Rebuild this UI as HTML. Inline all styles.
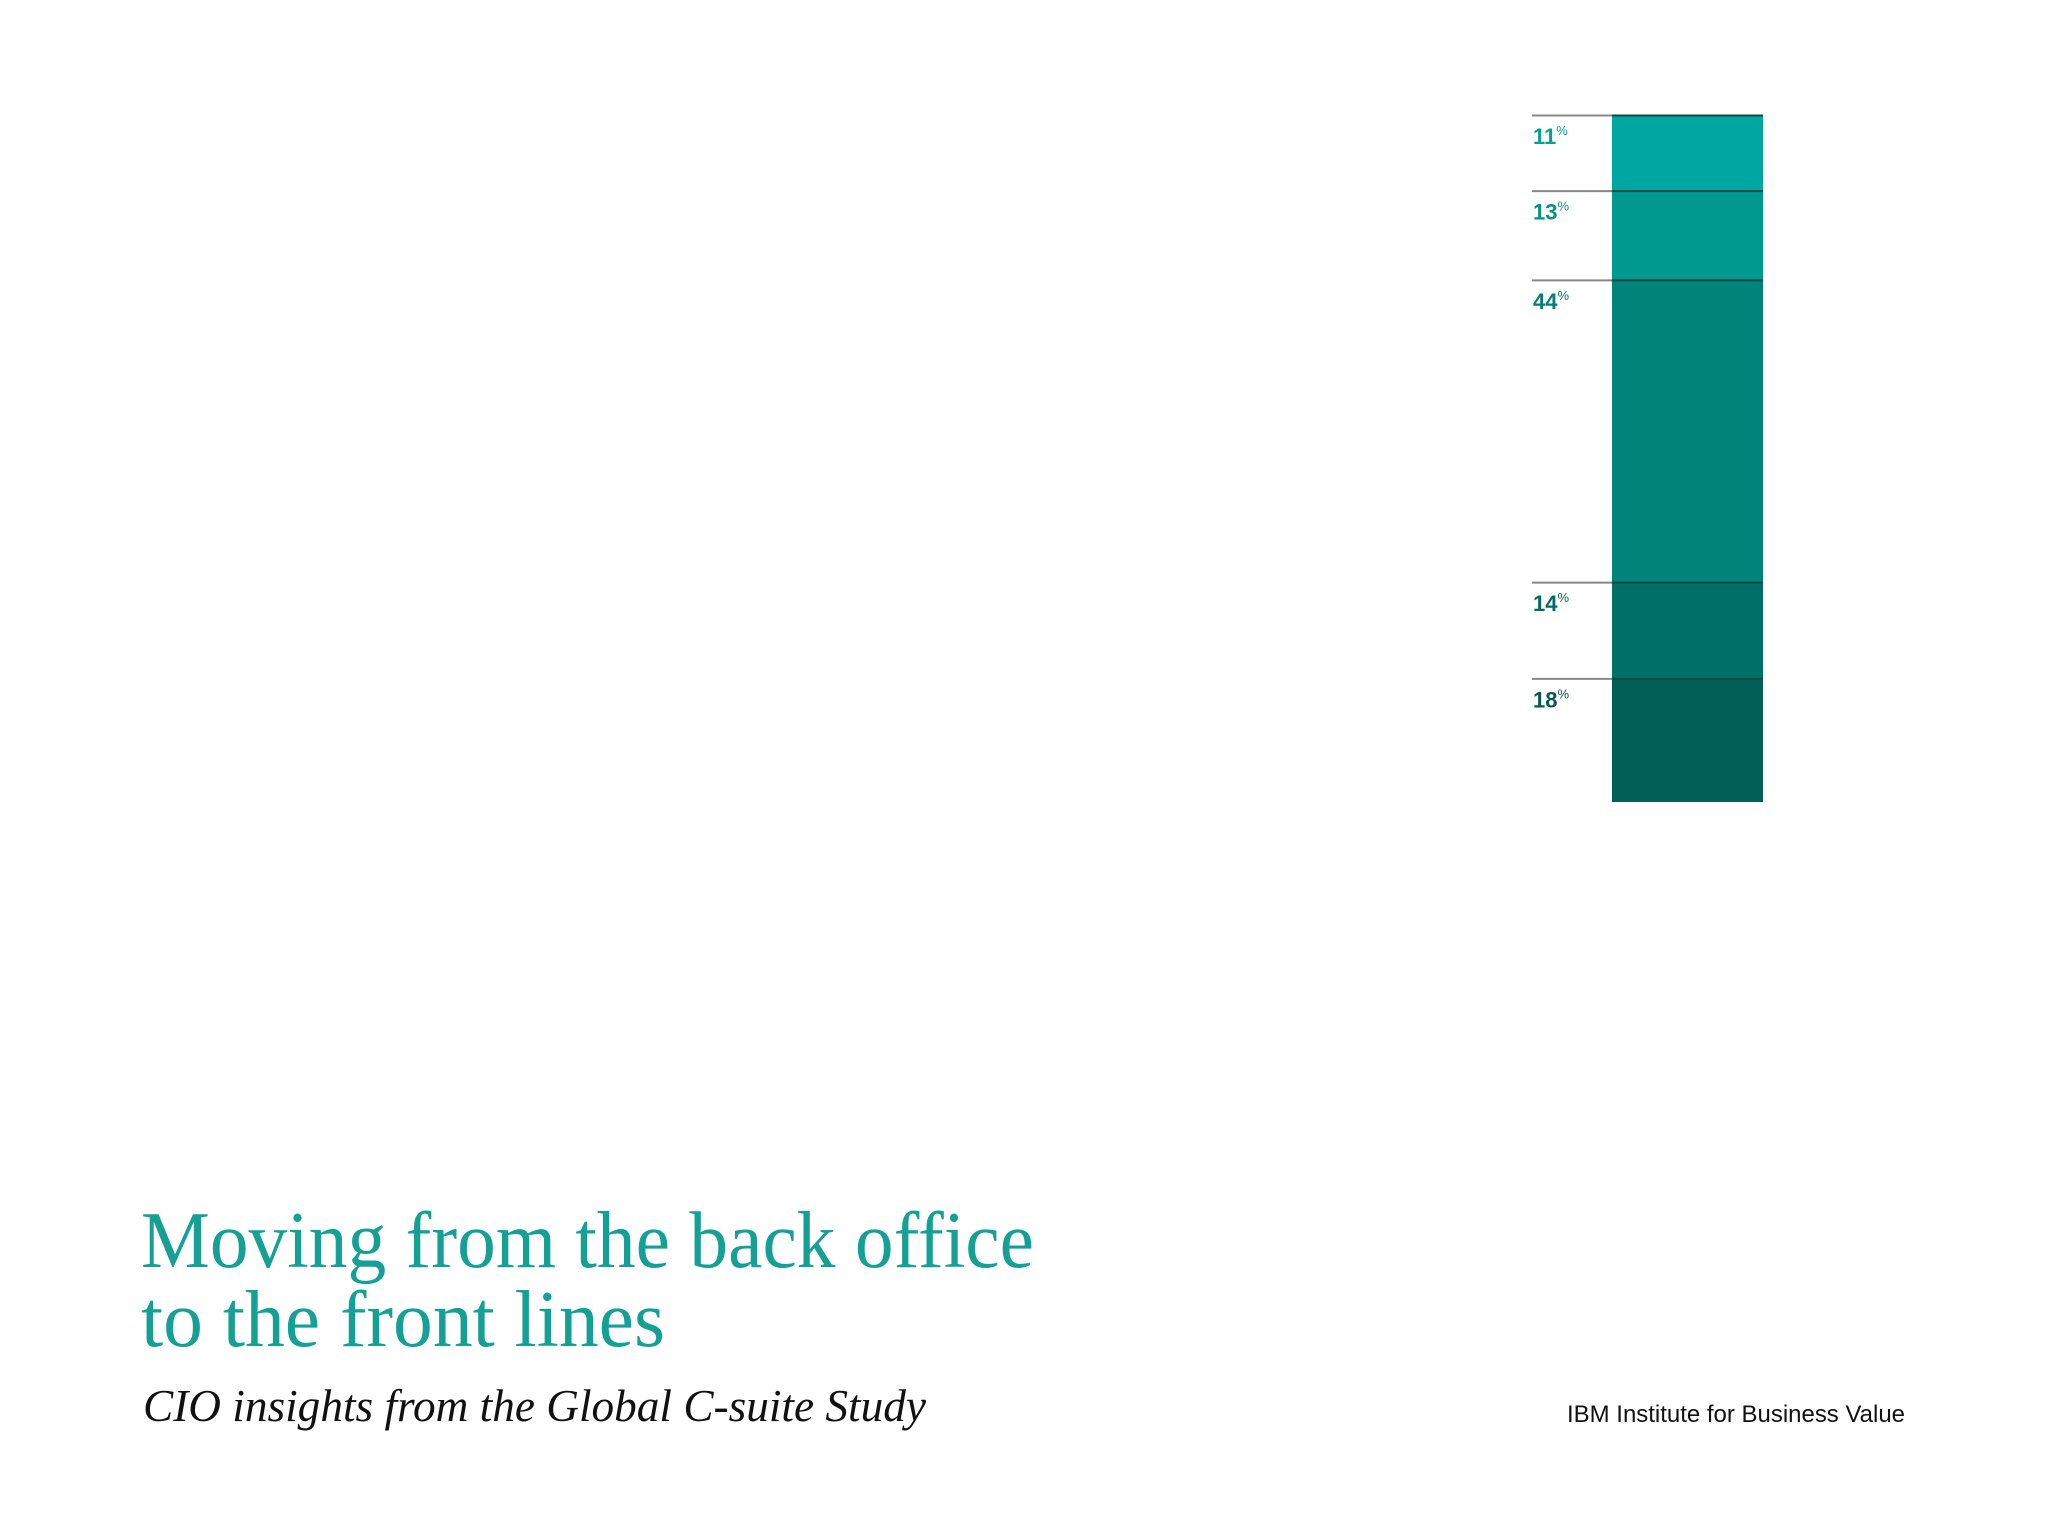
<!DOCTYPE html>
<html><head><meta charset="utf-8"><style>
html,body{margin:0;padding:0;background:#fff;}
svg{display:block;}
</style></head><body>
<svg id="chart" width="2048" height="1536" viewBox="0 0 2048 1536" xmlns="http://www.w3.org/2000/svg">
<rect width="2048" height="1536" fill="#fff"/>
<g id="bars"></g>
<text x="141" y="1267" font-family="Liberation Serif, serif" font-size="80" fill="#14a095" textLength="893" lengthAdjust="spacingAndGlyphs">Moving from the back office</text>
<text x="141" y="1346" font-family="Liberation Serif, serif" font-size="80" fill="#14a095" textLength="524" lengthAdjust="spacingAndGlyphs">to the front lines</text>
<text x="143" y="1421" font-family="Liberation Serif, serif" font-style="italic" font-size="46" fill="#111" textLength="783" lengthAdjust="spacingAndGlyphs">CIO insights from the Global C-suite Study</text>
<text x="1567" y="1422" font-family="Liberation Sans, sans-serif" font-size="24" fill="#111" textLength="338" lengthAdjust="spacingAndGlyphs">IBM Institute for Business Value</text>
</svg>
<script>
const categories = ["seg1","seg2","seg3","seg4","seg5"];
const values = [11, 13, 44, 14, 18];
const colors = ["#00a7a0","#009990","#00847a","#006f68","#005f56"];
const labelColors = ["#0a9d95","#0a8f86","#087d74","#066b63","#05594f"];
const NS = "http://www.w3.org/2000/svg";
const g = document.getElementById("bars");
const top0 = 115, bottom0 = 802, barX = 1612, barW = 151, lineX = 1532;
const total = values.reduce((a,b)=>a+b,0);
function yScale(v){ return top0 + (bottom0 - top0) * v / total; }
let cum = 0;
values.forEach((v,i)=>{
  const y0 = yScale(cum), y1 = yScale(cum+v);
  const r = document.createElementNS(NS,"rect");
  
  
  r.setAttribute("x",barX); r.setAttribute("y",y0);
  r.setAttribute("width",barW); r.setAttribute("height",y1-y0);
  r.setAttribute("fill",colors[i]);
  g.appendChild(r);
  const l = document.createElementNS(NS,"line");
  
  
  l.setAttribute("x1",lineX); l.setAttribute("x2",barX);
  l.setAttribute("y1",y0+0.5); l.setAttribute("y2",y0+0.5);
  l.setAttribute("stroke","#888"); l.setAttribute("stroke-width","2");
  g.appendChild(l);
  const l2 = document.createElementNS(NS,"line");
  
  
  l2.setAttribute("x1",barX); l2.setAttribute("x2",barX+barW);
  l2.setAttribute("y1",y0+0.5); l2.setAttribute("y2",y0+0.5);
  l2.setAttribute("stroke","#0a4a44"); l2.setAttribute("stroke-width","2");
  g.appendChild(l2);
  const t = document.createElementNS(NS,"text");
  
  
  t.setAttribute("x",lineX+1); t.setAttribute("y",y0+29);
  t.setAttribute("font-family","Liberation Sans, sans-serif");
  t.setAttribute("font-weight","bold"); t.setAttribute("font-size","22");
  t.setAttribute("fill",labelColors[i]);
  t.textContent = v;
  const s = document.createElementNS(NS,"tspan");
  s.setAttribute("font-size","13"); s.setAttribute("dy","-9");
  s.setAttribute("font-weight","normal");
  s.textContent = "%";
  t.appendChild(s);
  g.appendChild(t);
  cum += v;
});
</script>
</body></html>
